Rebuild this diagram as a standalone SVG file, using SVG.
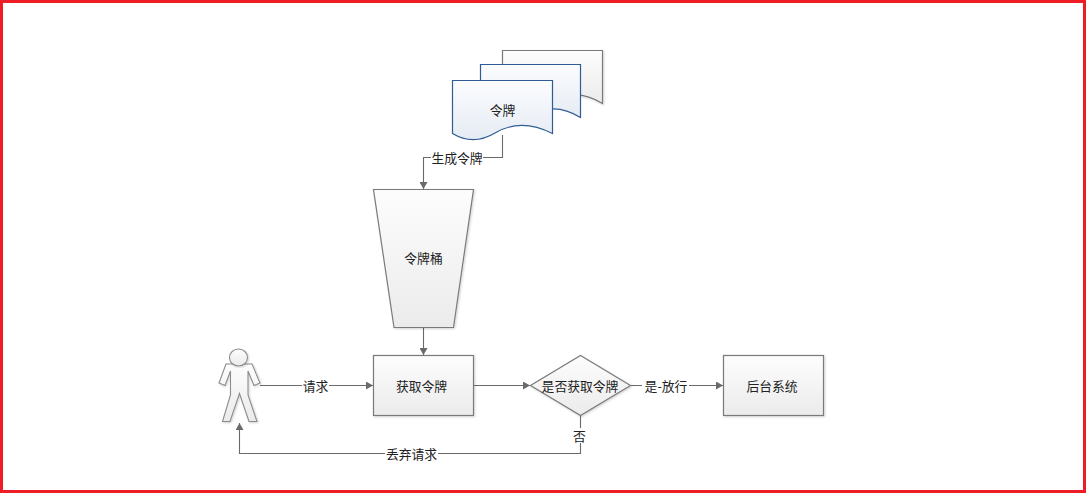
<svg xmlns="http://www.w3.org/2000/svg" width="1086" height="495" viewBox="0 0 1086 495">
<style>
text{font-family:"Noto Sans CJK SC","Liberation Sans",sans-serif;font-size:12.8px;fill:#222;text-anchor:middle;dominant-baseline:central}
.g{fill:url(#grey);stroke:#7a7a7a;stroke-width:1.2;filter:url(#sh)}
.p{fill:url(#grey);stroke:#8c8c8c;stroke-width:1.1;filter:url(#sh)}
.b{fill:url(#blue);stroke:#2f5c94;stroke-width:1.2}
.c{fill:none;stroke:#6a6a6a;stroke-width:1.1;marker-end:url(#arr)}
</style>
<defs>
<linearGradient id="grey" x1="0" y1="0" x2="0" y2="1"><stop offset="0" stop-color="#fdfdfd"/><stop offset="1" stop-color="#ebebeb"/></linearGradient>
<linearGradient id="blue" x1="0" y1="0" x2="0" y2="1"><stop offset="0" stop-color="#fbfcfe"/><stop offset="1" stop-color="#e6ecf4"/></linearGradient>
<filter id="sh" x="-10%" y="-10%" width="120%" height="120%"><feDropShadow dx="1" dy="1" stdDeviation="0.8" flood-color="#000" flood-opacity="0.18"/></filter>
<marker id="arr" markerUnits="userSpaceOnUse" markerWidth="8" markerHeight="8" refX="7" refY="4" orient="auto"><path d="M0,0L7,4L0,8Z" fill="#6a6a6a"/></marker>
</defs>
<rect x="1.5" y="1.5" width="1083" height="490" fill="#fff" stroke="#ee1c25" stroke-width="3"/>
<g id="connectors">
<path class="c" d="M502.5,135V157.500H423.500V189"/>
<path class="c" d="M423.500,327.500V355"/>
<path class="c" d="M260,385.500H373"/>
<path class="c" d="M473.500,385.500H530"/>
<path class="c" d="M630.500,385.500H723"/>
<path class="c" d="M580.500,415.500V453.500H239.500V423"/>
</g>
<g id="doc3"><path class="g" d="M502.500,50.500H602.500V103.500C592,97 582,94 572,95H502.500Z"/></g>
<g id="doc2"><path class="b" d="M480.500,64.500H580.500V117.500C570,111 560,108 550,109H480.500Z"/></g>
<g id="doc1"><path class="b" d="M452.500,80.500H552.500V133.500C530,122 510,124 495,133C480,142 465,141 452.500,133.500Z"/><text x="502.500" y="109.500">令牌</text></g>
<g id="bucket"><path class="g" d="M373.500,189.500H473.500L453.500,327.500H394Z"/><text x="423.500" y="257.500">令牌桶</text></g>
<g id="person"><path class="p" d="M226,364L252,364L260,383L254,385.500L248,371V395L257,421.500L249,421.500L239.500,393.500L230,421.500L222.500,421.500L230.500,395V371L225,385.500L219,383Z"/><ellipse class="p" cx="238.500" cy="357.500" rx="9" ry="8.500"/></g>
<g id="get"><rect class="g" x="373.500" y="355.500" width="100" height="60"/><text x="421.500" y="385">获取令牌</text></g>
<g id="decide"><path class="g" d="M580.500,355.500L630.500,385.500L580.500,415.500L530.500,385.500Z"/><text x="580" y="385">是否获取令牌</text></g>
<g id="backend"><rect class="g" x="723.500" y="355.500" width="100" height="60"/><text x="772" y="385">后台系统</text></g>
<g id="labels">
<rect x="431" y="150" width="52" height="15" fill="#fff"/><text x="457" y="157">生成令牌</text>
<rect x="302" y="378" width="27" height="15" fill="#fff"/><text x="315.500" y="385">请求</text>
<rect x="642" y="378" width="47" height="15" fill="#fff"/><text x="666" y="385">是-放行</text>
<rect x="573" y="428" width="15" height="15" fill="#fff"/><text x="579.500" y="435.500">否</text>
<rect x="385" y="446" width="53" height="15" fill="#fff"/><text x="411.500" y="453">丢弃请求</text>
</g>
</svg>
